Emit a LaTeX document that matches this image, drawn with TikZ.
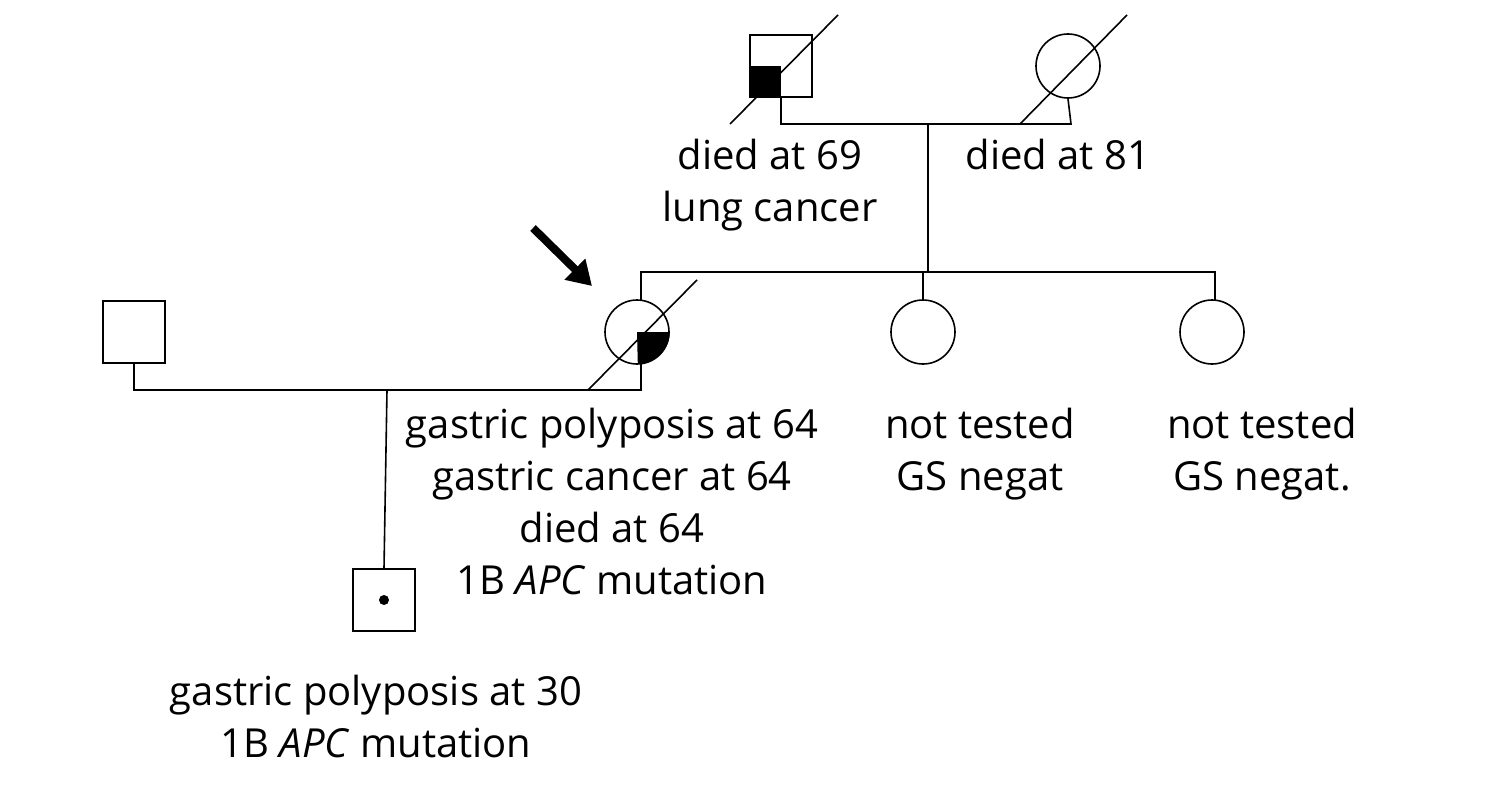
\documentclass[tikz,border=0pt]{standalone}
\usepackage{fontspec}
\setmainfont{Open Sans}
\usetikzlibrary{arrows.meta}
\begin{document}
\begin{tikzpicture}[x=1pt,y=-1pt,line width=1.6pt,
    male/.style={draw, minimum size=62pt, inner sep=0pt},
    female/.style={draw, circle, minimum size=64pt, inner sep=0pt},
    lab/.style={align=center, font=\fontsize{40}{52}\selectfont, anchor=north, inner sep=0pt}]
    \useasboundingbox (0,0) rectangle (1510,800);
    % Generation I
    \node[male] (gf) at (781,66) {};
    \fill (gf.south west) rectangle (gf.center);
    \node[female] (gm) at (1068,66) {};
    \draw (730,124) -- (838,15);
    \draw (1020,124) -- (1127,15);
    \coordinate (c1) at (928,124);
    \draw (gf.south) -- (781,124) -- (1071,124) -- (gm.south);
    \node[lab] at (770,138) {died at 69\\lung cancer};
    \node[lab] at (1058,138) {died at 81};
    % Generation II
    \node[female] (p) at (637,332) {};
    \fill (p.center) -- (p.east) arc[start angle=0, end angle=-90, radius=32pt] -- cycle;
    \node[female] (s1) at (923,332) {};
    \node[female] (s2) at (1212,332) {};
    \node[male] (h) at (134,332) {};
    \draw (588,390) -- (697,280);
    \draw[-{Triangle[length=24pt,width=28pt]}, line width=8pt] (533,228) -- (592,286);
    \draw (c1) -- (928,272);
    \draw (641,300) -- (641,272) -- (1215,272) -- (1215,300);
    \draw (923,272) -- (s1.north);
    \draw (h.south) -- (134,390) -- (641,390) -- (641,364);
    \node[lab] at (612,407) {gastric polyposis at 64\\gastric cancer at 64\\died at 64\\1B \textit{APC} mutation};
    \node[lab] at (980,407) {not tested\\GS negat};
    \node[lab] at (1262,407) {not tested\\GS negat.};
    % Generation III
    \node[male] (ch) at (384,600) {};
    \fill (ch.center) circle (5pt);
    \draw (387,390) -- (ch.north);
    \node[lab] at (376,674) {gastric polyposis at 30\\1B \textit{APC} mutation};
\end{tikzpicture}
\end{document}
